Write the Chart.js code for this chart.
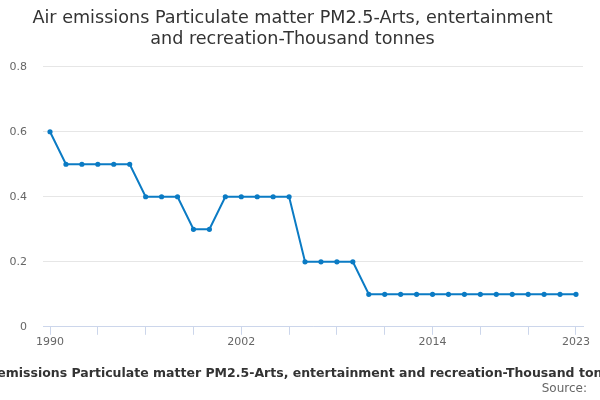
<!DOCTYPE html>
<html>
<head>
<meta charset="utf-8">
<script src="https://cdn.jsdelivr.net/npm/chart.js@4/dist/chart.umd.min.js"></script>
<style>
    html, body { margin: 0; padding: 0; background: #fff; }
    #wrap { width: 600px; height: 400px; position: relative; }
</style>
</head>
<body>
<div id="wrap"><canvas id="emissionsChart"></canvas></div>
<script>
// Air emissions PM2.5 - Arts, entertainment and recreation

const years = [
    1990, 1991, 1992, 1993, 1994, 1995, 1996, 1997, 1998, 1999, 2000, 2001,
    2002, 2003, 2004, 2005, 2006, 2007, 2008, 2009, 2010, 2011, 2012, 2013,
    2014, 2015, 2016, 2017, 2018, 2019, 2020, 2021, 2022, 2023
];
const values = [
    0.6, 0.5, 0.5, 0.5, 0.5, 0.5, 0.4, 0.4, 0.4, 0.3, 0.3, 0.4,
    0.4, 0.4, 0.4, 0.4, 0.2, 0.2, 0.2, 0.2, 0.1, 0.1, 0.1, 0.1,
    0.1, 0.1, 0.1, 0.1, 0.1, 0.1, 0.1, 0.1, 0.1, 0.1
];
const xTicks = [1990, 1993, 1996, 1999, 2002, 2005, 2008, 2011, 2014, 2017, 2020, 2023];
const xLabels = [1990, 2002, 2014, 2023];
const yTicks = [0, 0.2, 0.4, 0.6, 0.8];

const titleLines = [
    'Air emissions Particulate matter PM2.5-Arts, entertainment',
    'and recreation-Thousand tonnes'
];
const footerTitle = 'Air emissions Particulate matter PM2.5-Arts, entertainment and recreation-Thousand tonnes';
const sourceText = 'Source:';

const FONT = "'DejaVu Sans', sans-serif";

const footerPlugin = {
    id: 'footerText',
    afterDraw(chart) {
        const ctx = chart.ctx;
        ctx.save();
        ctx.fillStyle = '#333333';
        ctx.font = 'bold 12.5px ' + FONT;
        ctx.textAlign = 'center';
        ctx.textBaseline = 'middle';
        ctx.fillText(footerTitle, chart.width / 2, 374);
        ctx.fillStyle = '#666666';
        ctx.font = '12px ' + FONT;
        ctx.textAlign = 'right';
        ctx.fillText(sourceText, 587, 389);
        ctx.restore();
    }
};

document.addEventListener('DOMContentLoaded', () => {
    const ctx = document.getElementById('emissionsChart').getContext('2d');
    new Chart(ctx, {
        type: 'line',
        data: {
            datasets: [{
                data: years.map((y, i) => ({ x: y, y: values[i] })),
                borderColor: '#0b7bc4',
                backgroundColor: '#0b7bc4',
                borderWidth: 2,
                pointRadius: 1.6,
                pointHoverRadius: 3,
                tension: 0
            }]
        },
        options: {
            responsive: true,
            maintainAspectRatio: false,
            animation: false,
            layout: { padding: { left: 2, right: 17, top: 0, bottom: 50 } },
            plugins: {
                legend: { display: false },
                tooltip: { enabled: false },
                title: {
                    display: true,
                    text: titleLines,
                    color: '#333333',
                    font: { family: FONT, size: 17.6, weight: 'normal', lineHeight: 1.2 },
                    padding: { top: 7.5, bottom: 17 }
                }
            },
            scales: {
                x: {
                    type: 'linear',
                    min: 1989.56,
                    max: 2023.44,
                    afterBuildTicks: (axis) => {
                        axis.ticks = xTicks.map(v => ({ value: v }));
                    },
                    grid: {
                        drawOnChartArea: false,
                        drawTicks: true,
                        tickLength: 8,
                        color: '#ccd6eb'
                    },
                    border: { color: '#ccd6eb' },
                    ticks: {
                        autoSkip: false,
                        maxRotation: 0,
                        color: '#666666',
                        font: { family: FONT, size: 11 },
                        padding: 1,
                        callback: (v) => xLabels.includes(v) ? String(v) : ''
                    }
                },
                y: {
                    min: 0,
                    max: 0.8,
                    afterBuildTicks: (axis) => {
                        axis.ticks = yTicks.map(v => ({ value: v }));
                    },
                    afterFit: (axis) => { axis.width = 41; },
                    grid: { color: '#e6e6e6', drawTicks: false },
                    border: { display: false },
                    ticks: {
                        color: '#666666',
                        font: { family: FONT, size: 11 },
                        padding: 16,
                        callback: (v) => String(v)
                    }
                }
            }
        },
        plugins: [footerPlugin]
    });
});
</script>
</body>
</html>
